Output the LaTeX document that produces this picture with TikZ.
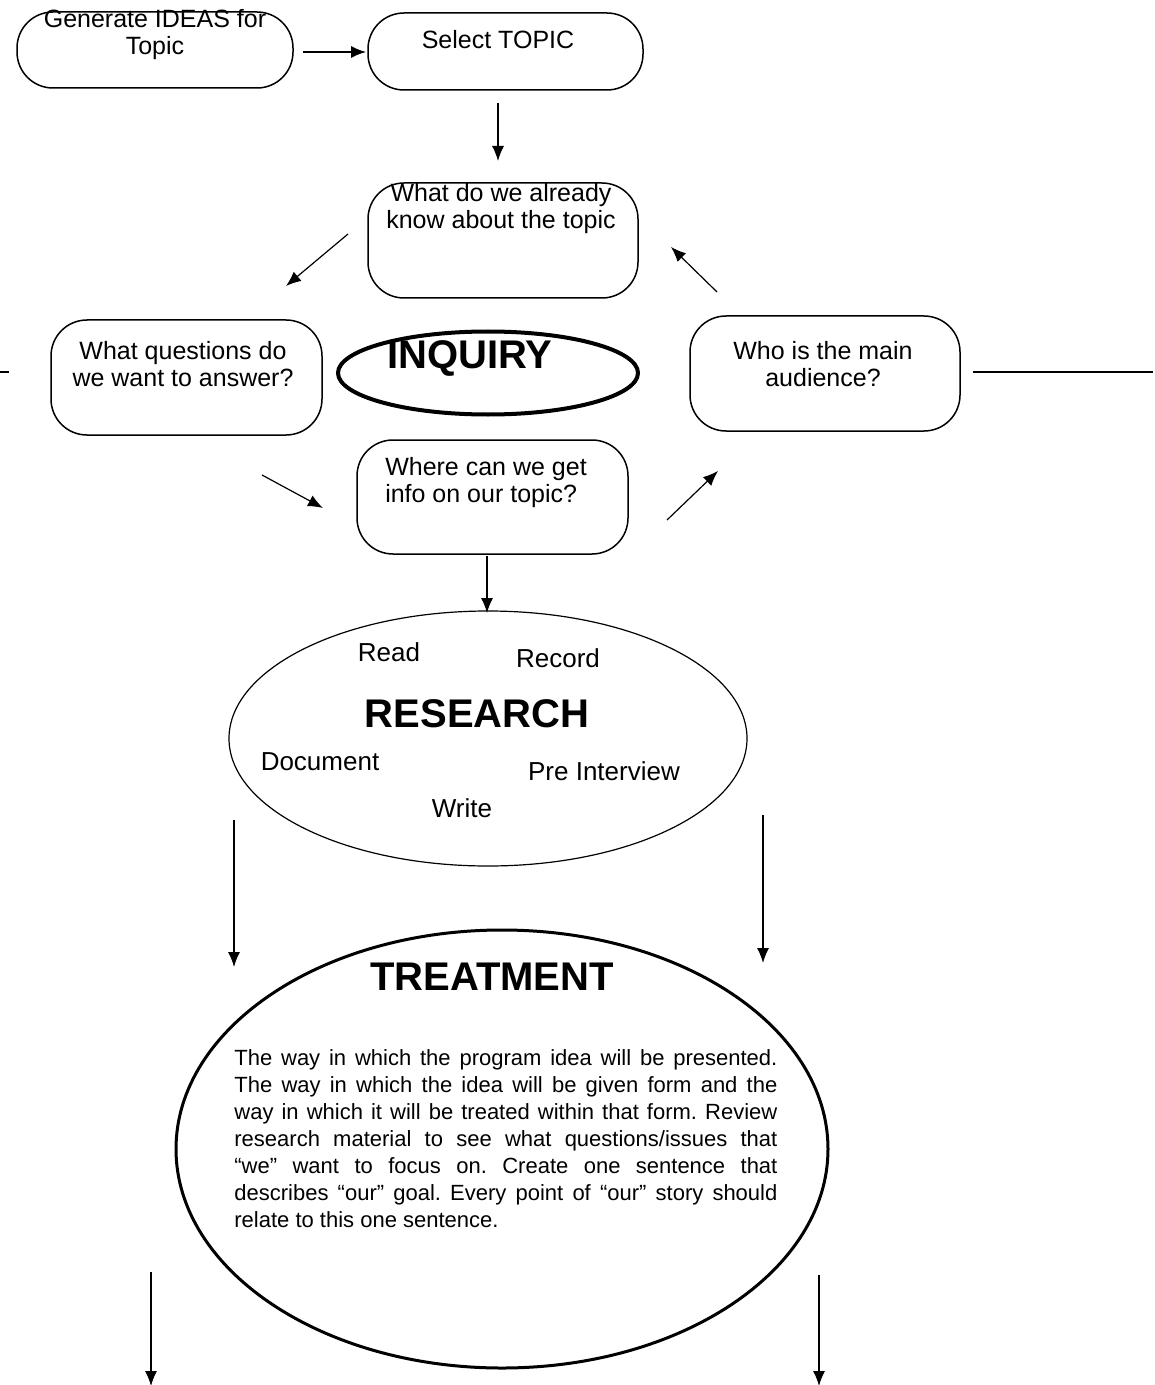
\documentclass[tikz,border=0pt]{standalone}
\usepackage{fontspec}
\setmainfont{Liberation Sans}
\usetikzlibrary{arrows.meta,shapes.geometric}
\tikzset{
  rbox/.style={draw, line width=0.75pt, rounded corners=18pt, inner sep=0pt},
  btxt/.style={inner sep=0pt, align=center, font=\fontsize{12.5}{13.5}\selectfont},
  small/.style={inner sep=0pt, font=\fontsize{13}{15}\selectfont},
  big/.style={inner sep=0pt, font=\fontsize{20}{22}\selectfont\bfseries},
  arr/.style={line width=0.6pt, -{Latex[length=7.5pt,width=6pt]}},
  plain/.style={line width=0.6pt}
}
\begin{document}
\frenchspacing
\begin{tikzpicture}[x=0.5pt,y=-0.5pt]
\useasboundingbox (0,0) rectangle (1155,1385);
% boxes
\node[rbox, minimum width=138pt, minimum height=38pt] (b1) at (155,50) {};
\node[btxt] (t1) at (155,35) {Generate IDEAS for\\Topic};
\node[rbox, minimum width=137.5pt, minimum height=38.5pt] (b2) at (505.5,51.5) {};
\node[btxt] (t2) at (498,40) {Select TOPIC};
\node[rbox, minimum width=135pt, minimum height=57.5pt] (b3) at (503,240.5) {};
\node[btxt] (t3) at (501,209) {What do we already\\know about the topic};
\node[rbox, minimum width=135.5pt, minimum height=57.5pt] (b4) at (186.5,377.5) {};
\node[btxt] (t4) at (183,364) {What questions do\\we want to answer?};
\node[rbox, minimum width=135pt, minimum height=57.5pt] (b5) at (825,373.5) {};
\node[btxt] (t5) at (823,364) {Who is the main\\audience?};
\node[rbox, minimum width=135.5pt, minimum height=57pt] (b6) at (492.5,497) {};
\node[btxt, align=left] (t6) at (486,483) {Where can we get\\info on our topic?};
% ellipses
\node[draw, ellipse, line width=2pt, minimum width=150pt, minimum height=41.5pt, inner sep=0pt] (inq) at (488,373) {};
\node[big] (inqt) at (470,358) {INQUIRY};
\node[draw, ellipse, line width=0.6pt, minimum width=259pt, minimum height=127.5pt, inner sep=0pt] (res) at (488,738.5) {};
\node[big] (rest) at (477,714) {RESEARCH};
\node[small] (read) at (389,652) {Read};
\node[small] (rec) at (558,658) {Record};
\node[small] (doc) at (320,762) {Document};
\node[small] (pre) at (604,771) {Pre Interview};
\node[small] (wri) at (462,808) {Write};
\node[draw, ellipse, line width=1.5pt, minimum width=326pt, minimum height=219pt, inner sep=0pt] (tre) at (502,1149) {};
\node[big] (tret) at (492,977) {TREATMENT};
\node[inner sep=0pt, anchor=north west, text width=271.5pt, align=justify,
      font=\fontsize{11}{13.5}\selectfont] (para) at (234,1049) {The way in which the program idea will be presented.\linebreak
The way in which the idea will be given form and the\linebreak
way in which it will be treated within that form. Review\linebreak
research material to see what questions/issues that\linebreak
“we” want to focus on. Create one sentence that\linebreak
describes “our” goal. Every point of “our” story should\linebreak
relate to this one sentence.};
% connector coordinates
\coordinate (a1s) at (303,52); \coordinate (a1e) at (366,52);
\coordinate (a2s) at (498,103); \coordinate (a2e) at (498,161);
\coordinate (a3s) at (348,234); \coordinate (a3e) at (286,286);
\coordinate (a4s) at (717,292); \coordinate (a4e) at (671,247);
\coordinate (a5s) at (262,475); \coordinate (a5e) at (323,508);
\coordinate (a6s) at (667,520); \coordinate (a6e) at (718,471);
\coordinate (a7s) at (487,556); \coordinate (a7e) at (487,613);
\coordinate (a8s) at (234,820); \coordinate (a8e) at (234,967);
\coordinate (a9s) at (763,815); \coordinate (a9e) at (763,963);
\coordinate (a10s) at (151,1272); \coordinate (a10e) at (151,1386);
\coordinate (a11s) at (819,1275); \coordinate (a11e) at (819,1386);
\coordinate (l1s) at (973,372); \coordinate (l1e) at (1153,372);
\coordinate (l2s) at (0,372); \coordinate (l2e) at (9,372);
% connectors
\foreach \i in {1,...,11} \draw[arr] (a\i s) -- (a\i e);
\draw[plain] (l1s) -- (l1e);
\draw[plain] (l2s) -- (l2e);
\end{tikzpicture}
\end{document}
